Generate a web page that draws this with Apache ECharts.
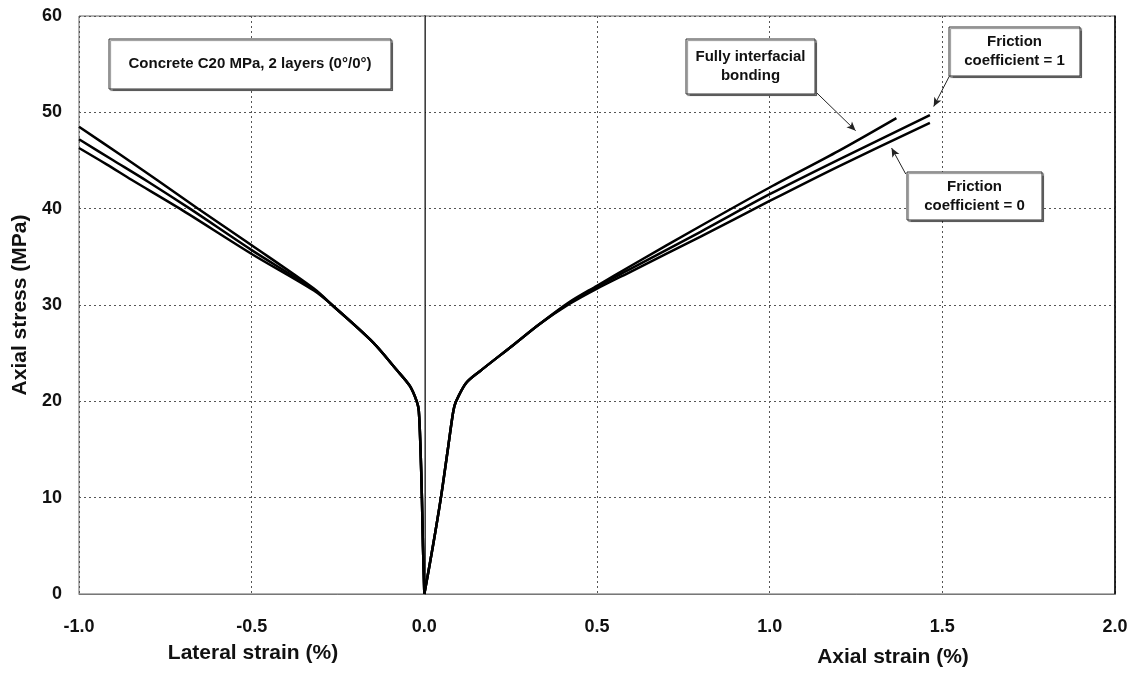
<!DOCTYPE html>
<html>
<head>
<meta charset="utf-8">
<script src="https://cdn.jsdelivr.net/npm/echarts@6/dist/echarts.min.js"></script>
<style>
html, body { margin: 0; padding: 0; background: #fff; }
#chart { width: 1137px; height: 674px; }
</style>
</head>
<body>
<div id="chart"></div>
<script>
// tick values
var xTicks = [-1.0, -0.5, 0.0, 0.5, 1.0, 1.5, 2.0]
var yTicks = [0, 10, 20, 30, 40, 50, 60]

// lateral strain (negative side), [strain %, stress MPa]
var lateralBonding = [[0, 0], [-0.004, 5], [-0.007, 10], [-0.011, 15], [-0.016, 19], [-0.022, 20], [-0.042, 21.6], [-0.081, 23.3], [-0.148, 26.1], [-0.264, 29.9], [-0.32, 31.7], [-0.5, 36.2], [-0.655, 40], [-0.775, 43], [-0.88, 45.6], [-1.0, 48.5]]
var lateralFric1 = [[0, 0], [-0.004, 5], [-0.007, 10], [-0.011, 15], [-0.016, 19], [-0.022, 20], [-0.042, 21.6], [-0.081, 23.3], [-0.148, 26.1], [-0.264, 29.9], [-0.32, 31.6], [-0.5, 35.7], [-0.679, 40], [-0.80, 42.8], [-0.9, 45.0], [-1.0, 47.2]]
var lateralFric0 = [[0, 0], [-0.004, 5], [-0.007, 10], [-0.011, 15], [-0.016, 19], [-0.022, 20], [-0.042, 21.6], [-0.081, 23.3], [-0.148, 26.1], [-0.264, 29.9], [-0.32, 31.5], [-0.5, 35.3], [-0.708, 40], [-0.848, 43], [-0.92, 44.6], [-1.0, 46.3]]

// axial strain (positive side)
var axialBonding = [[0, 0], [0.025, 5], [0.048, 10], [0.068, 15], [0.084, 19], [0.092, 20], [0.121, 21.9], [0.16, 23.1], [0.256, 25.8], [0.333, 28.0], [0.42, 30.3], [0.5, 32.0], [0.6, 34.1], [0.8, 38.2], [1.0, 42.2], [1.2, 46.0], [1.367, 49.4]]
var axialFric1 = [[0, 0], [0.025, 5], [0.048, 10], [0.068, 15], [0.084, 19], [0.092, 20], [0.121, 21.9], [0.16, 23.1], [0.256, 25.8], [0.333, 28.0], [0.42, 30.2], [0.5, 31.9], [0.6, 33.8], [0.8, 37.6], [1.0, 41.5], [1.2, 45.1], [1.464, 49.7]]
var axialFric0 = [[0, 0], [0.025, 5], [0.048, 10], [0.068, 15], [0.084, 19], [0.092, 20], [0.121, 21.9], [0.16, 23.1], [0.256, 25.8], [0.333, 28.0], [0.42, 30.1], [0.5, 31.7], [0.6, 33.5], [0.8, 37.1], [1.0, 40.8], [1.2, 44.4], [1.464, 48.9]]

// label arrows [from, to] in data units
var arrowBonding = [[1.137, 52.0], [1.249, 48.1]]
var arrowFric1 = [[1.521, 53.8], [1.475, 50.6]]
var arrowFric0 = [[1.394, 43.6], [1.353, 46.3]]

var font = 'Liberation Sans, Arial, sans-serif'
var myChart = echarts.init(document.getElementById('chart'))

function curve (name, data) {
  return {
    name: name,
    type: 'line',
    data: data,
    smooth: 0.3,
    showSymbol: false,
    symbol: 'none',
    lineStyle: { color: '#000', width: 2.5 },
    z: 5
  }
}

function arrow (pts) {
  return [{ coord: pts[0] }, { coord: pts[1] }]
}

function box (x, y, w, h, lines) {
  return {
    type: 'group',
    x: x,
    y: y,
    z: 100,
    children: [
      {
        type: 'rect',
        z: 100,
        shape: { x: 0, y: 0, width: w, height: h },
        style: { fill: '#fff', stroke: '#333', lineWidth: 1, shadowColor: 'rgba(0,0,0,0.45)', shadowOffsetX: 1.5, shadowOffsetY: 1.5, shadowBlur: 1 }
      },
      {
        type: 'text',
        z: 101,
        x: w / 2,
        y: h / 2,
        style: { text: lines, fill: '#111', font: 'bold 15px ' + font, align: 'center', verticalAlign: 'middle', lineHeight: 19 }
      }
    ]
  }
}

var option = {
  animation: false,
  grid: { left: 79, right: 22, top: 16, bottom: 80, show: true, borderColor: '#666', borderWidth: 1 },
  xAxis: {
    type: 'value',
    min: -1.0,
    max: 2.0,
    interval: 0.5,
    axisLine: { show: true, onZero: false, lineStyle: { color: '#777', width: 1 } },
    axisTick: { show: false },
    axisLabel: { color: '#111', fontFamily: font, fontWeight: 'bold', fontSize: 18, margin: 24, formatter: function (v) { return v.toFixed(1) } },
    splitLine: { show: true, lineStyle: { color: '#555', type: [2, 3], width: 1 } }
  },
  yAxis: [
    {
      type: 'value',
      min: 0,
      max: 60,
      interval: 10,
      name: 'Axial stress (MPa)',
      nameLocation: 'middle',
      nameGap: 45,
      nameTextStyle: { color: '#111', fontFamily: font, fontWeight: 'bold', fontSize: 21 },
      axisLine: { show: true, lineStyle: { color: '#000', width: 1.5 } },
      axisTick: { show: false },
      axisLabel: { color: '#111', fontFamily: font, fontWeight: 'bold', fontSize: 18, margin: 17 },
      splitLine: { show: true, lineStyle: { color: '#555', type: [2, 3], width: 1 } }
    },
    {
      type: 'value',
      position: 'right',
      min: 0,
      max: 60,
      axisLine: { show: true, lineStyle: { color: '#000', width: 1.5 } },
      axisTick: { show: false },
      axisLabel: { show: false },
      splitLine: { show: false }
    }
  ],
  series: [
    {
      name: 'zero',
      type: 'line',
      data: [],
      silent: true,
      markLine: {
        silent: true,
        symbol: 'none',
        label: { show: false },
        lineStyle: { color: '#888', type: 'solid', width: 1 },
        data: [{ xAxis: 0 }]
      },
      z: 3
    },
    curve('Lateral - fully interfacial bonding', lateralBonding),
    curve('Lateral - friction coefficient = 1', lateralFric1),
    curve('Lateral - friction coefficient = 0', lateralFric0),
    curve('Axial - fully interfacial bonding', axialBonding),
    curve('Axial - friction coefficient = 1', axialFric1),
    Object.assign(curve('Axial - friction coefficient = 0', axialFric0), {
      markLine: {
        silent: true,
        symbol: ['none', 'arrow'],
        symbolSize: [6, 9],
        label: { show: false },
        lineStyle: { color: '#222', type: 'solid', width: 1 },
        data: [arrow(arrowBonding), arrow(arrowFric1), arrow(arrowFric0)]
      }
    })
  ],
  graphic: [
    box(109, 39, 282, 50, 'Concrete C20 MPa, 2 layers (0°/0°)'),
    box(686, 39, 129, 55, 'Fully interfacial\nbonding'),
    box(949, 27, 131, 49, 'Friction\ncoefficient = 1'),
    box(907, 172, 135, 48, 'Friction\ncoefficient = 0'),
    {
      type: 'text',
      x: 253,
      y: 653,
      style: { text: 'Lateral strain (%)', fill: '#111', font: 'bold 21px ' + font, align: 'center', verticalAlign: 'middle' }
    },
    {
      type: 'text',
      x: 893,
      y: 657,
      style: { text: 'Axial strain (%)', fill: '#111', font: 'bold 21px ' + font, align: 'center', verticalAlign: 'middle' }
    }
  ]
}

myChart.setOption(option)
</script>
</body>
</html>
